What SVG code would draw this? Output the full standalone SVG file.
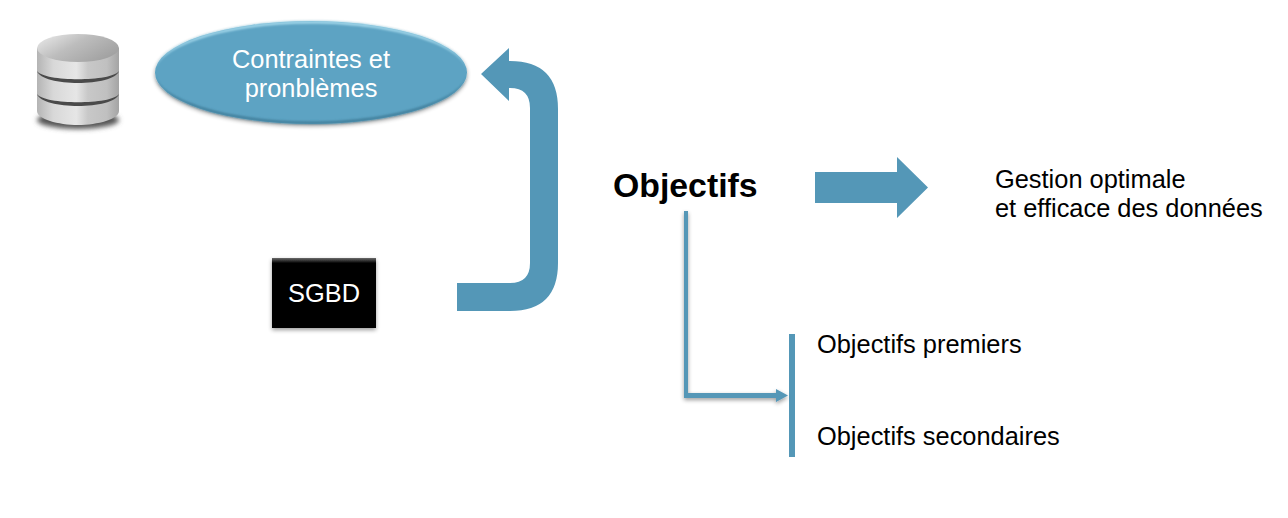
<svg xmlns="http://www.w3.org/2000/svg" width="1288" height="518" viewBox="0 0 1288 518">
<style>
text{font-family:"Liberation Sans",Arial,sans-serif}
.w{fill:#fff;font-size:25.400px;text-anchor:middle}
.k{fill:#000;font-size:25.400px}
.b{fill:#5497b7}
</style>
<defs>
<linearGradient id="cyl" x1="0" x2="1" y1="0" y2="0">
<stop offset="0" stop-color="#b4b4b4"/><stop offset=".2" stop-color="#d8d8d8"/><stop offset=".48" stop-color="#e6e6e6"/><stop offset=".62" stop-color="#c8c8c8"/><stop offset=".85" stop-color="#c0c0c0"/><stop offset="1" stop-color="#a4a4a4"/>
</linearGradient>
<linearGradient id="cyltop" x1="0" x2="1" y1="0" y2="0.6">
<stop offset="0" stop-color="#ededed"/><stop offset=".5" stop-color="#bdbdbd"/><stop offset="1" stop-color="#a2a2a2"/>
</linearGradient>
<linearGradient id="rectG" x1="0" x2="0" y1="0" y2="1">
<stop offset="0" stop-color="#6a6a6a"/><stop offset=".07" stop-color="#050505"/><stop offset="1" stop-color="#000"/>
</linearGradient>
<filter id="sh" x="-10%" y="-10%" width="120%" height="130%"><feGaussianBlur in="SourceAlpha" stdDeviation="2"/><feOffset dy="2"/><feComponentTransfer><feFuncA type="linear" slope=".4"/></feComponentTransfer><feMerge><feMergeNode/><feMergeNode in="SourceGraphic"/></feMerge></filter>
<filter id="blur" x="-20%" y="-100%" width="140%" height="300%"><feGaussianBlur stdDeviation="2.500"/></filter>
<filter id="soft" x="-5%" y="-20%" width="110%" height="140%"><feGaussianBlur stdDeviation="1"/></filter>
</defs>

<g id="database">
<ellipse cx="78" cy="120" rx="41" ry="9" fill="#555" filter="url(#blur)"/>
<path d="M37 48V111C37 119 58 125 78 125S119 119 119 111V48Z" fill="url(#cyl)"/>
<ellipse cx="78" cy="48" rx="41" ry="14" fill="url(#cyltop)"/>
<path d="M37 71C44 82 112 82 119 71C114 87 42 87 37 71Z" fill="#4a4a4a"/>
<path d="M37 94C44 105 112 105 119 94C114 110 42 110 37 94Z" fill="#4a4a4a"/>
</g>

<g id="contraintes">
<ellipse cx="311" cy="72.500" rx="156" ry="51.500" fill="#5da3c3" filter="url(#sh)"/>
<path d="M155 72.500C155 44 225 21 311 21S467 44 467 72.500C467 47 397 23.500 311 23.500S155 47 155 72.500Z" fill="#a9dcee" filter="url(#soft)"/>
<path d="M155 72.500C155 101 225 124 311 124S467 101 467 72.500C467 98 397 121.500 311 121.500S155 98 155 72.500Z" fill="#3f7d99" filter="url(#soft)"/>
<text class="w" x="311" y="67.500">Contraintes et</text>
<text class="w" x="311" y="96.500">pronblèmes</text>
</g>

<g id="sgbd">
<rect x="272" y="258" width="104" height="70" fill="url(#rectG)" filter="url(#sh)"/>
<text class="w" x="324" y="302">SGBD</text>
</g>

<g id="objectifs">
<text x="613" y="197" font-size="33.800" font-weight="700" fill="#000">Objectifs</text>
</g>

<g id="gestion">
<text class="k" x="995" y="188">Gestion optimale</text>
<text class="k" x="995" y="217">et efficace des données</text>
</g>

<g id="liste">
<rect class="b" x="789" y="334" width="6" height="123"/>
<text class="k" x="817" y="353">Objectifs premiers</text>
<text class="k" x="817" y="445">Objectifs secondaires</text>
</g>

<g id="connectors">
<path class="b" d="M457 311V283H510Q530 283 530 263V108Q530 88 510 88H509V101L481 74L509 48V61H510Q558 61 558 109V263Q558 311 510 311Z"/>
<path class="b" d="M815 172H897V157L928 187.500L897 218V203H815Z"/>
<g filter="url(#sh)">
<path class="b" d="M684 211H688V393H776V389L788 395.500L776 402V398H684Z"/>
</g>
</g>
</svg>
